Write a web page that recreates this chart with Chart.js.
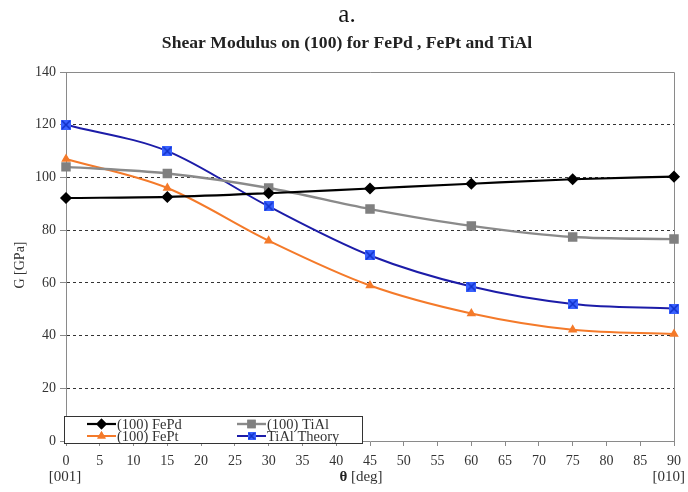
<!DOCTYPE html>
<html><head><meta charset="utf-8">
<script src="https://cdn.jsdelivr.net/npm/chart.js@4/dist/chart.umd.min.js"></script>
<style>html,body{margin:0;padding:0;background:#fff}#wrap{width:688px;height:492px;position:relative}</style>
</head><body><div id="wrap"><canvas id="c" width="688" height="492"></canvas></div>
<script>
const angles = [0, 15, 30, 45, 60, 75, 90];
const fePd = [92.2, 92.6, 94.0, 95.8, 97.6, 99.3, 100.3];
const tiAl = [104.0, 101.5, 96.0, 88.0, 81.6, 77.4, 76.6];
const fePt = [107.0, 96.0, 76.0, 59.0, 48.4, 42.2, 40.6];
const tiAlTheory = [120.0, 110.0, 89.0, 70.4, 58.6, 52.0, 50.2];
const seriesNames = ['(100) FePd', '(100) TiAl', '(100) FePt', 'TiAl Theory'];
const mainTitle = 'a.';
const subTitle = 'Shear Modulus on (100) for FePd , FePt and TiAl';
const yTitle = 'G [GPa]';
const xTitleSym = 'θ';
const xTitleRest = ' [deg]';
const xStartLabel = '[001]';
const xEndLabel = '[010]';

const SERIF = "'Liberation Serif','Times New Roman',serif";
const pts = a => a.map((v, i) => ({x: angles[i], y: v}));

function blueMarker(size) {
  const c = document.createElement('canvas');
  c.width = size; c.height = size;
  const g = c.getContext('2d');
  g.fillStyle = '#3a62ff';
  g.fillRect(0, 0, size, size);
  g.strokeStyle = '#1030c8';
  g.lineWidth = 1.5;
  g.beginPath();
  g.moveTo(1, 1); g.lineTo(size - 1, size - 1);
  g.moveTo(size - 1, 1); g.lineTo(1, size - 1);
  g.stroke();
  return c;
}
const blueBig = blueMarker(10);
const blueSmall = blueMarker(8);

const styles = [
  {color: '#000000', pbg: '#000000', pstyle: 'rectRot', r: 4.5, w: 2.2},
  {color: '#8a8a8a', pbg: '#808080', pstyle: 'rect', r: 5, w: 2.4},
  {color: '#f47a2a', pbg: '#f47a2a', pstyle: 'triangle', r: 3.5, w: 2},
  {color: '#1c1ca8', pbg: '#3a62ff', pstyle: blueBig, r: 5, w: 2}
];
const dataArr = [fePd, tiAl, fePt, tiAlTheory];

const datasets = dataArr.map((d, i) => ({
  label: seriesNames[i],
  data: pts(d),
  borderColor: styles[i].color,
  backgroundColor: styles[i].pbg,
  pointBackgroundColor: styles[i].pbg,
  pointBorderColor: styles[i].pbg,
  pointStyle: styles[i].pstyle,
  pointRadius: styles[i].r,
  borderWidth: styles[i].w,
  tension: 0.4,
  cubicInterpolationMode: 'monotone',
  clip: false
}));
datasets[0].order = 0; datasets[1].order = 1; datasets[2].order = 2; datasets[3].order = 3;

const decor = {
  id: 'decor',
  beforeDatasetsDraw(chart) {
    const {ctx, chartArea: a} = chart;
    ctx.save();
    ctx.strokeStyle = '#8a8a8a';
    ctx.lineWidth = 1;
    ctx.beginPath();
    ctx.moveTo(a.left, a.top + 0.5); ctx.lineTo(a.right + 0.5, a.top + 0.5);
    ctx.lineTo(a.right + 0.5, a.bottom);
    ctx.stroke();
    ctx.restore();
  },
  afterDraw(chart) {
    const {ctx} = chart;
    ctx.save();
    ctx.fillStyle = '#111';
    ctx.textAlign = 'center';
    ctx.textBaseline = 'middle';
    ctx.font = "25px " + SERIF;
    ctx.fillText(mainTitle, 347, 15);
    ctx.save();
    ctx.translate(347, 44);
    ctx.scale(1.1, 1);
    ctx.font = "bold 16px " + SERIF;
    ctx.fillStyle = '#222';
    ctx.fillText(subTitle, 0, 0);
    ctx.restore();
    // y title
    ctx.save();
    ctx.translate(20, 265);
    ctx.rotate(-Math.PI / 2);
    ctx.font = "14px " + SERIF;
    ctx.fillStyle = '#333';
    ctx.fillText(yTitle, 0, 0);
    ctx.restore();
    // x title
    ctx.font = "bold 15px " + SERIF;
    const w1 = ctx.measureText(xTitleSym).width;
    ctx.font = "15px " + SERIF;
    const w2 = ctx.measureText(xTitleRest).width;
    let x0 = 361 - (w1 + w2) / 2;
    ctx.textAlign = 'left';
    ctx.font = "bold 15px " + SERIF;
    ctx.fillStyle = '#222';
    ctx.fillText(xTitleSym, x0, 477);
    ctx.font = "15px " + SERIF;
    ctx.fillStyle = '#333';
    ctx.fillText(xTitleRest, x0 + w1, 477);
    // [001] [010]
    ctx.font = "15px " + SERIF;
    ctx.textAlign = 'center';
    ctx.fillText(xStartLabel, 65, 477);
    ctx.textAlign = 'right';
    ctx.fillText(xEndLabel, 685, 477);
    // legend
    const lx = 64, ly = 416, lw = 298, lh = 27;
    ctx.fillStyle = '#fff';
    ctx.fillRect(lx, ly, lw, lh);
    ctx.strokeStyle = '#333';
    ctx.lineWidth = 1;
    ctx.strokeRect(lx + 0.5, ly + 0.5, lw, lh);
    const pos = [[87, 424], [237, 424], [87, 436], [237, 436]];
    ctx.font = "14.5px " + SERIF;
    ctx.textAlign = 'left';
    ctx.textBaseline = 'middle';
    [0, 1, 2, 3].forEach((di, k) => {
      const [px, py] = pos[k];
      const s = styles[di];
      ctx.strokeStyle = s.color;
      ctx.lineWidth = s.w;
      ctx.beginPath(); ctx.moveTo(px, py); ctx.lineTo(px + 29, py); ctx.stroke();
      if (di === 3) {
        ctx.drawImage(blueSmall, px + 14.5 - 4, py - 4);
      } else {
        Chart.helpers.drawPoint(ctx, {pointStyle: s.pstyle, radius: s.r * 0.85, borderWidth: 1, rotation: 0}, px + 14.5, py);
        ctx.fillStyle = s.pbg; ctx.strokeStyle = s.pbg;
        ctx.fill(); ctx.stroke();
      }
      ctx.fillStyle = '#333';
      ctx.fillText(seriesNames[di], px + 30, py + 1);
    });
    ctx.restore();
  }
};

new Chart(document.getElementById('c'), {
  type: 'line',
  data: {datasets},
  options: {
    responsive: false,
    animation: false,
    devicePixelRatio: 1,
    layout: {padding: {top: 72, right: 14, left: 0, bottom: 0}},
    plugins: {legend: {display: false}, title: {display: false}, tooltip: {enabled: false}},
    scales: {
      x: {
        type: 'linear', min: 0, max: 90,
        afterFit(s) { s.height = 51; },
        ticks: {stepSize: 5, color: '#333', font: {family: SERIF, size: 14}, padding: 7, maxRotation: 0, autoSkip: false},
        grid: {drawOnChartArea: false, color: '#8a8a8a', tickLength: 5, tickColor: '#8a8a8a'},
        border: {color: '#8a8a8a', width: 1}
      },
      y: {
        min: 0, max: 140,
        afterFit(s) { s.width = 66; },
        ticks: {stepSize: 20, color: '#333', font: {family: SERIF, size: 14}, padding: 4},
        grid: {
          color: c => (c.tick.value === 0 || c.tick.value === 140) ? 'rgba(0,0,0,0)' : '#333',
          tickColor: '#8a8a8a', tickLength: 6, lineWidth: 1
        },
        border: {color: '#8a8a8a', width: 1, dash: [3, 3]}
      }
    }
  },
  plugins: [decor]
});
</script></body></html>
